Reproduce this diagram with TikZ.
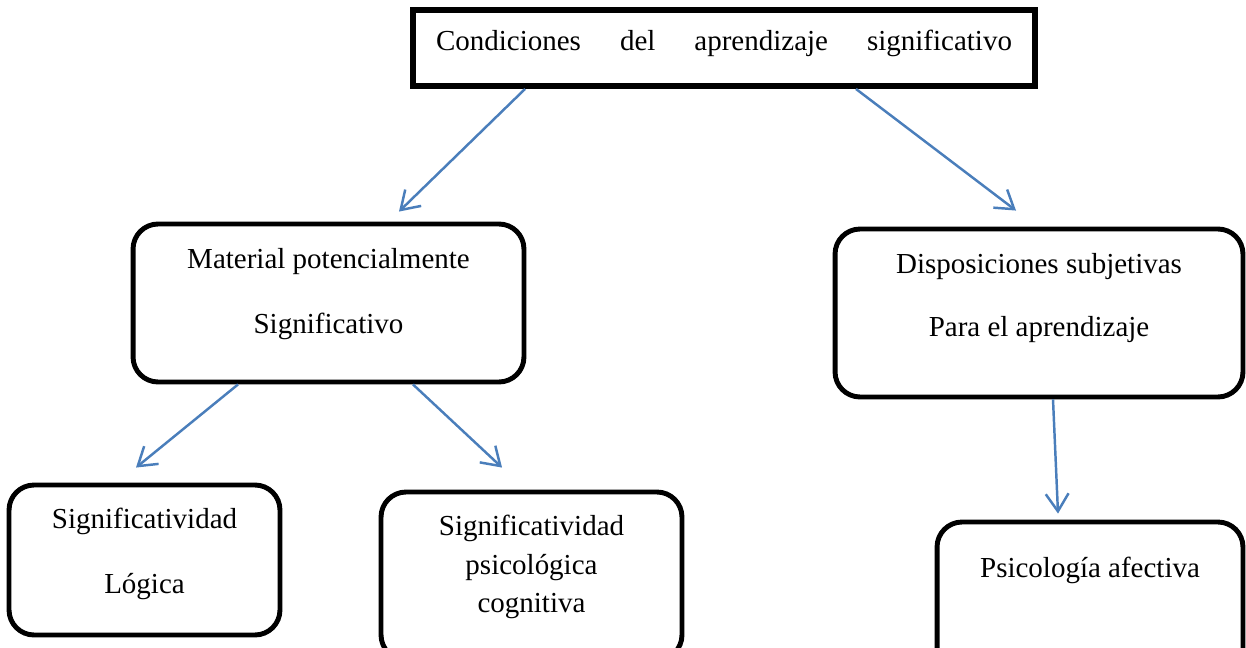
\documentclass[tikz,border=0pt]{standalone}
\usepackage{fontspec}
\setmainfont{Liberation Serif}
\usetikzlibrary{arrows.meta}
\definecolor{linkblue}{HTML}{4A7EBB}

\begin{document}
\begin{tikzpicture}[x=0.02cm, y=-0.02cm,
    box/.style={draw, line width=2.8pt, rounded corners=0.5cm, inner sep=0pt},
    txt/.style={align=center, font=\fontsize{16.5}{20}\selectfont},
    link/.style={draw=linkblue, line width=1.4pt,
      -{Straight Barb[length=10pt, width=13pt]}}
  ]

  % Page frame
  \useasboundingbox (0,0) rectangle (1246,648);
  \clip (0,0) rectangle (1246,648);

  % Boxes
  \node[box, rounded corners=0pt, line width=3.4pt,
    minimum width=12.44cm, minimum height=1.52cm,
    label={[txt, yshift=0.1cm]center:{\makebox[11.52cm]{Condiciones\hfill del\hfill aprendizaje\hfill significativo}}}]
    (top) at (724,48) {};
  \node[box, minimum width=7.82cm, minimum height=3.16cm,
    label={[txt, yshift=0.18cm]center:{Material potencialmente\\[17.4pt]Significativo}}]
    (mat) at (328.5,303) {};
  \node[box, minimum width=8.16cm, minimum height=3.36cm,
    label={[txt, yshift=0.3cm]center:{Disposiciones subjetivas\\[16.3pt]Para el aprendizaje}}]
    (disp) at (1039,313) {};
  \node[box, minimum width=5.42cm, minimum height=3cm,
    label={[txt, yshift=0.12cm]center:{Significatividad\\[17.4pt]Lógica}}]
    (logica) at (144.5,560) {};
  \node[box, minimum width=6.02cm, minimum height=3.36cm,
    label={[txt, yshift=0.18cm]center:{Significatividad\\[2pt]psicológica\\[2pt]cognitiva}}]
    (cogn) at (531.5,576) {};
  \node[box, minimum width=6.12cm, minimum height=3.36cm,
    label={[txt, yshift=0.72cm]center:{Psicología afectiva}}]
    (afect) at (1090,606) {};

  % Arrows between boxes
  \draw[link] ([xshift=-3.98cm]top.south) -- ([xshift=1.41cm, yshift=0.2cm]mat.north);
  \draw[link] ([xshift=2.64cm]top.south) -- ([xshift=-0.46cm, yshift=0.32cm]disp.north);
  \draw[link] ([xshift=-1.81cm]mat.south) -- ([xshift=-0.17cm, yshift=0.3cm]logica.north);
  \draw[link] ([xshift=1.69cm]mat.south) -- ([xshift=-0.59cm, yshift=0.44cm]cogn.north);
  \draw[link] ([xshift=0.28cm]disp.south) -- ([xshift=-0.64cm, yshift=0.12cm]afect.north);

\end{tikzpicture}
\end{document}
